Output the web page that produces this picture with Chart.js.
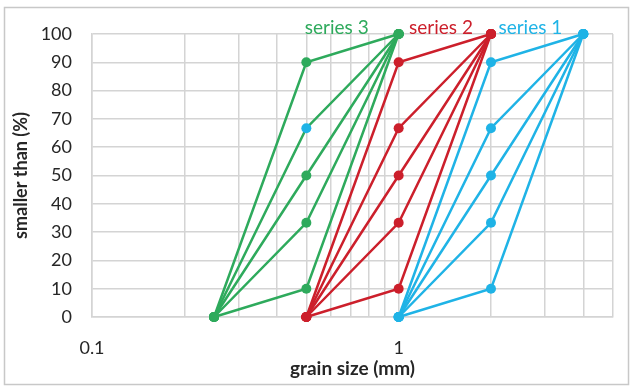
<!DOCTYPE html>
<html>
<head>
<meta charset="utf-8">
<script src="https://cdn.jsdelivr.net/npm/chart.js@4"></script>
<style>
  html, body { margin: 0; padding: 0; background: #ffffff; }
  #wrap { position: relative; width: 633px; height: 388px; }
</style>
</head>
<body>
<div id="wrap"><canvas id="c" width="633" height="388"></canvas></div>
<script>
// Grain sizes (mm) of each sieve curve: 0 % passing, intermediate point, 100 % passing
const seriesNames = ['series 1', 'series 2', 'series 3'];
const series1Sizes = [1, 2, 4];
const series2Sizes = [0.5, 1, 2];
const series3Sizes = [0.25, 0.5, 1];
// Percent smaller than at the intermediate size, one curve per value
const midPercents = [10, 33.3, 50, 66.7, 90];
const startPercent = 0;
const endPercent = 100;

// Axis ticks
const xTickValues = [0.1, 0.2, 0.3, 0.4, 0.5, 0.6, 0.7, 0.8, 0.9, 1, 2, 3, 4, 5];
const xTickLabels = ['0.1', '', '', '', '', '', '', '', '', '1', '', '', '', ''];
const yTicks = [0, 10, 20, 30, 40, 50, 60, 70, 80, 90, 100];

const seriesColors = ['#1fb3e6', '#cc1f2b', '#2eaa5c'];
const seriesSizes = [series1Sizes, series2Sizes, series3Sizes];
// label placement relative to each series' 100 % point (px)
const labelOffsets = [21, 18, 30];
// middle-point colours per curve (third series has one marker in blue)
const midPointColors = [
  [seriesColors[0], seriesColors[0], seriesColors[0], seriesColors[0], seriesColors[0]],
  [seriesColors[1], seriesColors[1], seriesColors[1], seriesColors[1], seriesColors[1]],
  [seriesColors[2], seriesColors[2], seriesColors[2], seriesColors[0], seriesColors[2]]
];

const datasets = [];
seriesSizes.forEach((sizes, s) => {
  midPercents.forEach((p, k) => {
    const c = seriesColors[s];
    const pc = [c, midPointColors[s][k], c];
    datasets.push({
      label: seriesNames[s],
      data: [
        { x: sizes[0], y: startPercent },
        { x: sizes[1], y: p },
        { x: sizes[2], y: endPercent }
      ],
      borderColor: c,
      backgroundColor: c,
      pointBackgroundColor: pc,
      pointBorderColor: pc,
      pointRadius: 5,
      pointBorderWidth: 0,
      borderWidth: 2.5,
      showLine: true,
      tension: 0,
      clip: false,
      order: s
    });
  });
});

const frame = {
  id: 'frame',
  beforeDraw(chart) {
    const ctx = chart.ctx;
    ctx.save();
    ctx.fillStyle = '#ffffff';
    ctx.fillRect(0, 0, chart.width, chart.height);
    ctx.strokeStyle = '#c8c8c8';
    ctx.lineWidth = 1.5;
    ctx.strokeRect(4.5, 7.5, 624, 377);
    ctx.restore();
  }
};

const seriesLabels = {
  id: 'seriesLabels',
  afterDatasetsDraw(chart) {
    const ctx = chart.ctx;
    const xs = chart.scales.x, ys = chart.scales.y;
    ctx.save();
    ctx.font = '19px Lato, "Open Sans", sans-serif';
    ctx.textAlign = 'right';
    ctx.textBaseline = 'alphabetic';
    seriesNames.forEach((name, s) => {
      const sizes = seriesSizes[s];
      const px = xs.getPixelForValue(sizes[2]);
      const py = ys.getPixelForValue(endPercent);
      ctx.fillStyle = seriesColors[s];
      ctx.fillText(name, px - labelOffsets[s], py);
    });
    ctx.restore();
  }
};

new Chart(document.getElementById('c'), {
  type: 'scatter',
  data: { datasets },
  plugins: [frame, seriesLabels],
  options: {
    responsive: false,
    animation: false,
    layout: { padding: { top: 34, right: 20, left: 0, bottom: 0 } },
    plugins: { legend: { display: false }, tooltip: { enabled: false } },
    scales: {
      x: {
        type: 'logarithmic',
        min: 0.1,
        max: 5,
        afterBuildTicks(scale) {
          scale.ticks = xTickValues.map(v => ({ value: v }));
        },
        afterFit(scale) { scale.height = 71; },
        ticks: {
          autoSkip: false,
          maxRotation: 0,
          padding: 20,
          color: '#262626',
          font: { family: 'Lato', size: 18 },
          callback(value, index) { return xTickLabels[index]; }
        },
        grid: { color: '#d4d4d4', lineWidth: 1.5, drawTicks: false },
        border: { color: '#d4d4d4', width: 1.5 },
        title: {
          display: true,
          text: 'grain size (mm)',
          color: '#262626',
          font: { family: 'Lato', size: 19, weight: 'bold' },
          padding: { top: 0, bottom: 8 }
        }
      },
      y: {
        min: 0,
        max: 100,
        afterBuildTicks(scale) {
          scale.ticks = yTicks.map(v => ({ value: v }));
        },
        afterFit(scale) { scale.width = 92; },
        ticks: {
          padding: 20,
          color: '#262626',
          font: { family: 'Lato', size: 18 }
        },
        grid: { color: '#d4d4d4', lineWidth: 1.5, drawTicks: false },
        border: { color: '#d4d4d4', width: 1.5 },
        title: {
          display: true,
          text: 'smaller than (%)',
          color: '#262626',
          font: { family: 'Lato', size: 18, weight: 'bold' },
          padding: { top: 10, bottom: 0 }
        }
      }
    }
  }
});
</script>
</body>
</html>
